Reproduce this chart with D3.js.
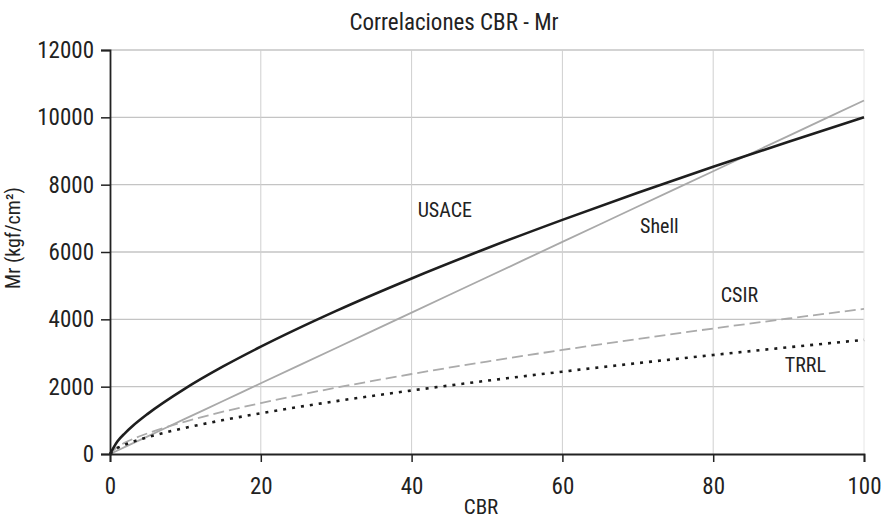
<!DOCTYPE html>
<html>
<head>
<meta charset="utf-8">
<script src="https://cdn.jsdelivr.net/npm/d3@7"></script>
<style>
  html, body { margin: 0; padding: 0; background: #fff; }
  svg { display: block; }
  text { font-family: "Roboto Condensed", "Liberation Sans Narrow", sans-serif; fill: #222; }
</style>
</head>
<body>
<svg id="chart" width="883" height="521"></svg>
<script>
// ---- Data ----
const cbr    = [0, 1, 2, 3, 5, 10, 15, 20, 30, 40, 50, 60, 70, 80, 90, 100];
const usace  = [0, 380, 622, 830, 1191, 1949, 2600, 3188, 4252, 5215, 6110, 6954, 7760, 8531, 9276, 10000];
const shell  = [0, 105, 210, 315, 525, 1050, 1575, 2100, 3150, 4200, 5250, 6300, 7350, 8400, 9450, 10500];
const csir   = [0, 216, 339, 442, 615, 965, 1256, 1514, 1970, 2376, 2747, 3091, 3418, 3728, 4025, 4310];
const trrl   = [0, 178, 277, 360, 499, 777, 1007, 1211, 1570, 1887, 2177, 2446, 2700, 2941, 3170, 3391];

const xTicks = [0, 20, 40, 60, 80, 100];
const yTicks = [0, 2000, 4000, 6000, 8000, 10000, 12000];

const title = "Correlaciones CBR - Mr";
const xLabel = "CBR";
const yLabel = "Mr (kgf/cm²)";

const seriesLabels = [
  { name: "USACE", cbr: 40.8, mr: 7040 },
  { name: "Shell", cbr: 70.3, mr: 6560 },
  { name: "CSIR",  cbr: 81.0, mr: 4515 },
  { name: "TRRL",  cbr: 89.5, mr: 2436 }
];

// ---- Drawing ----
const FONT = '"Roboto Condensed", "Liberation Sans Narrow", sans-serif';
const svg = d3.select("#chart");
const x = d3.scaleLinear().domain([0, 100]).range([110, 864]);
const y = d3.scaleLinear().domain([0, 12000]).range([454, 50]);

// grid
svg.append("g").selectAll("line").data(yTicks.filter(d => d > 0)).join("line")
  .attr("x1", x(0)).attr("x2", x(100))
  .attr("y1", d => y(d)).attr("y2", d => y(d))
  .attr("stroke", "#c4c4c4").attr("stroke-width", 1.3);
svg.append("g").selectAll("line").data(xTicks.filter(d => d > 0)).join("line")
  .attr("x1", d => x(d)).attr("x2", d => x(d))
  .attr("y1", y(0)).attr("y2", y(12000))
  .attr("stroke", d => d === 100 ? "#e6e6e6" : "#cfcfcf").attr("stroke-width", 1);

// series
const line = d3.line().x(d => x(d[0])).y(d => y(d[1])).curve(d3.curveMonotoneX);
const series = [
  { vals: shell, color: "#a9a9a9", width: 1.8, dash: null },
  { vals: csir,  color: "#ababab", width: 1.8, dash: "11,5" },
  { vals: trrl,  color: "#1a1a1a", width: 2.6, dash: "3,6" },
  { vals: usace, color: "#1e1e1e", width: 2.6, dash: null }
];
series.forEach(s => {
  svg.append("path")
    .datum(cbr.map((c, i) => [c, s.vals[i]]))
    .attr("d", line)
    .attr("fill", "none")
    .attr("stroke", s.color)
    .attr("stroke-width", s.width)
    .attr("stroke-dasharray", s.dash);
});

// axes
const xAxis = d3.axisBottom(x).tickValues(xTicks).tickSize(8).tickPadding(16).tickFormat(d3.format("d"));
const yAxis = d3.axisLeft(y).tickValues(yTicks).tickSize(9).tickPadding(7).tickFormat(d3.format("d"));
const gx = svg.append("g").attr("transform", `translate(0,${y(0)})`).call(xAxis);
const gy = svg.append("g").attr("transform", `translate(${x(0)},0)`).call(yAxis);
[gx, gy].forEach(g => {
  g.attr("font-family", FONT);
  g.select(".domain").attr("stroke", "#222").attr("stroke-width", 1.8);
  g.selectAll(".tick line").attr("stroke", "#222").attr("stroke-width", 1.5);
  g.selectAll(".tick text").attr("font-size", 23).attr("fill", "#222");
});

// titles
svg.append("text").attr("x", 454).attr("y", 30).attr("text-anchor", "middle")
  .attr("font-size", 23).text(title);
svg.append("text").attr("x", 481).attr("y", 514).attr("text-anchor", "middle")
  .attr("font-size", 21).text(xLabel);
svg.append("text").attr("transform", "translate(20,238) rotate(-90)").attr("text-anchor", "middle")
  .attr("font-size", 20).text(yLabel);

// series labels
svg.append("g").selectAll("text").data(seriesLabels).join("text")
  .attr("x", d => x(d.cbr)).attr("y", d => y(d.mr))
  .attr("font-size", 20).text(d => d.name);
</script>
</body>
</html>
